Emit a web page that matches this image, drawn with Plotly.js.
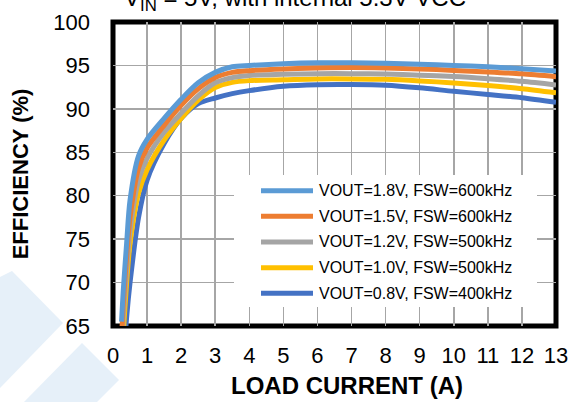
<!DOCTYPE html>
<html>
<head>
<meta charset="utf-8">
<script src="https://cdn.plot.ly/plotly-3.0.1.min.js"></script>
<style>html,body{margin:0;padding:0;background:#fff;}#chart{width:576px;height:402px;}</style>
</head>
<body>
<div id="chart"></div>
<script>
// Load current (A)
const loadCurrent = [0.25, 0.3, 0.4, 0.5, 0.75, 1, 1.5, 2, 2.5, 3, 3.5, 4, 5, 6, 7, 8, 9, 10, 11, 12, 13];
// Efficiency (%) per configuration
const eff18 = [65.5, 69, 74.5, 79.5, 84.6, 86.5, 88.9, 91.1, 93.0, 94.2, 94.85, 95.0, 95.2, 95.3, 95.3, 95.25, 95.15, 95.0, 94.85, 94.62, 94.35];
const eff15 = [63.5, 67.5, 73, 77.5, 83.2, 85.5, 88.1, 90.4, 92.3, 93.6, 94.2, 94.4, 94.6, 94.7, 94.75, 94.7, 94.6, 94.43, 94.25, 94.03, 93.7];
const eff12 = [62, 66, 71.5, 76, 81.8, 84.3, 87.3, 89.5, 91.5, 93.0, 93.6, 93.85, 93.97, 94.05, 94.05, 94.0, 93.88, 93.72, 93.47, 93.17, 92.75];
const eff10 = [60.5, 64, 70, 74.5, 80.3, 83.0, 86.4, 88.9, 91.0, 92.45, 93.05, 93.25, 93.35, 93.45, 93.45, 93.4, 93.22, 92.98, 92.68, 92.32, 91.85];
const eff08 = [57, 60.5, 66, 70, 77.5, 81.8, 86.0, 88.9, 90.6, 91.25, 91.75, 92.1, 92.6, 92.78, 92.8, 92.72, 92.42, 92.02, 91.66, 91.28, 90.75];

const seriesNames = ['VOUT=1.8V, FSW=600kHz', 'VOUT=1.5V, FSW=600kHz', 'VOUT=1.2V, FSW=500kHz', 'VOUT=1.0V, FSW=500kHz', 'VOUT=0.8V, FSW=400kHz'];
const seriesValues = [eff18, eff15, eff12, eff10, eff08];
const seriesColors = ['#5B9BD5', '#ED7D31', '#A5A5A5', '#FFC000', '#4472C4'];

const xTicks = [0,1,2,3,4,5,6,7,8,9,10,11,12,13];
const yTicks = [65,70,75,80,85,90,95,100];
const xTitle = 'LOAD CURRENT (A)';
const yTitle = 'EFFICIENCY (%)';
const chartTitle = 'V<sub>IN</sub> = 5V, with internal 5.3V VCC';

const W = 576, H = 402;
const L = 113, R = 556, T = 22, B = 326;
const pxX = p => (p - L) / (R - L);
const pxY = p => (B - p) / (B - T);

const FONT = 'Arial, "Liberation Sans", sans-serif';

const traces = seriesValues.map((vals, i) => ({
  x: loadCurrent,
  y: vals,
  type: 'scatter',
  mode: 'lines',
  name: seriesNames[i],
  line: {color: seriesColors[i], width: 5, shape: 'spline', smoothing: 0.8},
  showlegend: false,
  hoverinfo: 'skip'
}));
// draw lowest series first so 1.8V is on top
traces.reverse();

const shapes = [];
const annotations = [];

// faint watermark chevrons in lower-left
const wm = '#E6F0F9';
function polyPath(pts) {
  return 'M' + pts.map(p => pxX(p[0]) + ',' + pxY(p[1])).join(' L') + ' Z';
}
shapes.push({type: 'path', xref: 'paper', yref: 'paper', layer: 'below',
  path: polyPath([[0, 277], [12, 271], [63, 323], [0, 388]]), fillcolor: wm, line: {width: 0}});
shapes.push({type: 'path', xref: 'paper', yref: 'paper', layer: 'below',
  path: polyPath([[82, 343], [119, 380], [97, 402], [24, 402]]), fillcolor: wm, line: {width: 0}});

// legend box (covers the grid)
shapes.push({type: 'rect', xref: 'paper', yref: 'paper', layer: 'above',
  x0: pxX(234), x1: pxX(537), y0: pxY(307), y1: pxY(175),
  fillcolor: '#FFFFFF', line: {width: 0}});
seriesNames.forEach((nm, i) => {
  const yy = 190.7 + i * 25.65;
  shapes.push({type: 'line', xref: 'paper', yref: 'paper', layer: 'above',
    x0: pxX(261), x1: pxX(313), y0: pxY(yy), y1: pxY(yy),
    line: {color: seriesColors[i], width: 5}});
  annotations.push({xref: 'paper', yref: 'paper', x: pxX(317), y: pxY(yy),
    xanchor: 'left', yanchor: 'middle', showarrow: false, text: nm,
    font: {family: FONT, size: 16, color: '#000'}});
});

// x-axis title
annotations.push({xref: 'paper', yref: 'paper', x: pxX(347), y: pxY(385),
  xanchor: 'center', yanchor: 'middle', showarrow: false, text: xTitle,
  font: {family: FONT, size: 24, color: '#000', weight: 'bold'}});

// plot frame
shapes.push({type: 'rect', xref: 'paper', yref: 'paper', layer: 'between',
  x0: 0, x1: 1, y0: 0, y1: 1, line: {color: '#000', width: 5}, fillcolor: 'rgba(0,0,0,0)'});

const layout = {
  width: W, height: H,
  margin: {l: L, r: W - R, t: T, b: H - B, pad: 0},
  paper_bgcolor: '#fff', plot_bgcolor: '#fff',
  font: {family: FONT, color: '#000'},
  title: {text: chartTitle,
    font: {family: FONT, size: 24, color: '#000'},
    x: 295 / W, xanchor: 'center', xref: 'container',
    y: 1 - 6 / H, yanchor: 'bottom', yref: 'container'},
  xaxis: {
    range: [0, 13], tickvals: xTicks, ticktext: xTicks.map(String),
    showgrid: true, gridcolor: '#A6A6A6', gridwidth: 1.5,
    zeroline: false, showline: false, ticks: '',
    ticklabelstandoff: 14,
    tickfont: {family: FONT, size: 22, color: '#000'},
    fixedrange: true
  },
  yaxis: {
    range: [65, 100], tickvals: yTicks, ticktext: yTicks.map(String),
    showgrid: true, gridcolor: '#A6A6A6', gridwidth: 1.5,
    zeroline: false, showline: false, ticks: '',
    ticklabelstandoff: 22,
    tickfont: {family: FONT, size: 22, color: '#000'},
    title: {text: yTitle, font: {family: FONT, size: 22, color: '#000', weight: 'bold'}, standoff: 18},
    fixedrange: true
  },
  shapes: shapes,
  annotations: annotations,
  showlegend: false
};

Plotly.newPlot('chart', traces, layout, {staticPlot: true, displayModeBar: false});
</script>
</body>
</html>
